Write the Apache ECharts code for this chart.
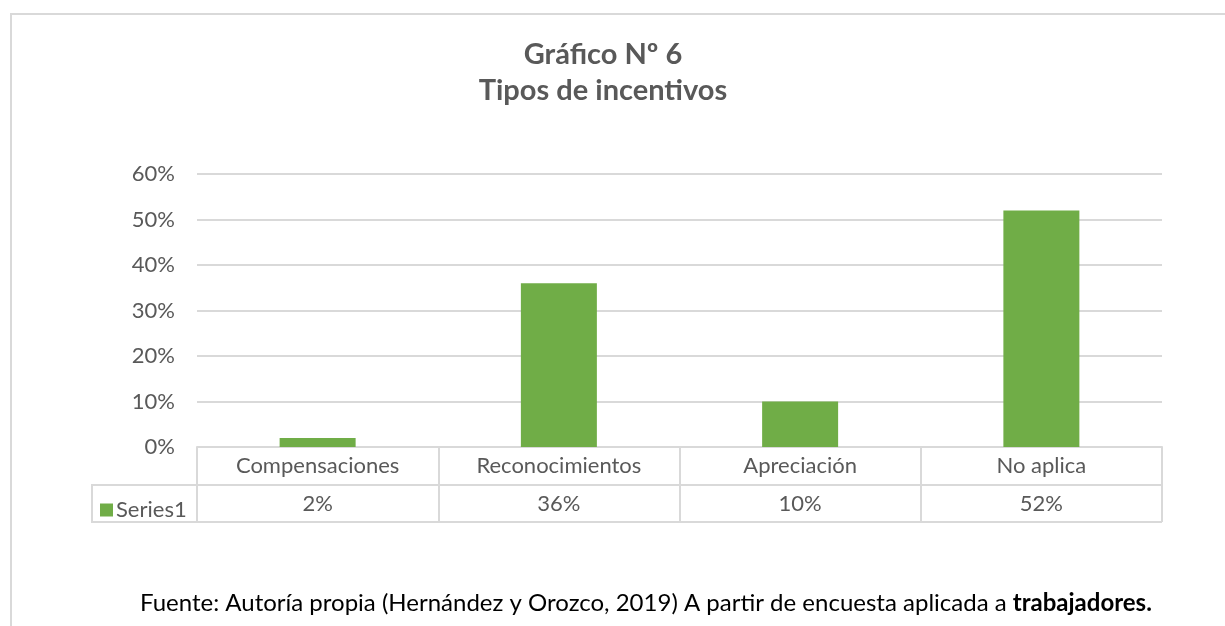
<!DOCTYPE html>
<html>
<head>
<meta charset="utf-8">
<script src="https://cdn.jsdelivr.net/npm/echarts@6/dist/echarts.min.js"></script>
<style>
  html, body { margin: 0; padding: 0; background: #fff; }
  #chart { width: 1225px; height: 626px; }
</style>
</head>
<body>
<div id="chart"></div>
<script>
// datos del gráfico
const categories = ['Compensaciones', 'Reconocimientos', 'Apreciación', 'No aplica']
const values = [0.02, 0.36, 0.10, 0.52]
const yTicks = [0, 0.1, 0.2, 0.3, 0.4, 0.5, 0.6]
const seriesName = 'Series1'

const pct = v => Math.round(v * 100) + '%'
const FONT = 'Lato'
const GRAY = '#595959'
const LINE = '#d9d9d9'

const chart = echarts.init(document.getElementById('chart'))

const option = {
  backgroundColor: '#fff',
  animation: false,
  textStyle: { fontFamily: FONT },
  title: [
    {
      text: 'Gráfico Nº 6\nTipos de incentivos',
      left: 598,
      textAlign: 'center',
      top: 32,
      textStyle: { fontFamily: FONT, fontSize: 29, fontWeight: 'bold', color: GRAY, lineHeight: 36 }
    },
    {
      text: '{n|Fuente: Autoría propia (Hernández y Orozco, 2019) A partir de encuesta aplicada a }{b|trabajadores.}',
      left: 135,
      top: 585,
      textStyle: {
        rich: {
          n: { fontFamily: FONT, fontSize: 24, lineHeight: 26, color: '#000', fontWeight: 'normal' },
          b: { fontFamily: FONT, fontSize: 24, lineHeight: 26, color: '#000', fontWeight: 'bold' }
        }
      }
    }
  ],
  legend: {
    data: [seriesName],
    left: 95,
    top: 494,
    icon: 'rect',
    itemWidth: 13,
    itemHeight: 13,
    itemGap: 4,
    textStyle: { fontFamily: FONT, fontSize: 22, color: GRAY, padding: [0, 0, 0, -2] }
  },
  grid: { left: 197, right: 63, top: 174, bottom: 179, containLabel: false },
  xAxis: [
    {
      type: 'category',
      data: categories,
      axisLine: { show: true, lineStyle: { color: LINE, width: 2 } },
      axisTick: { show: true, length: 38, lineStyle: { color: LINE, width: 2 } },
      axisLabel: { fontFamily: FONT, fontSize: 22, color: GRAY, margin: 8 }
    },
    {
      type: 'category',
      position: 'bottom',
      offset: 38,
      data: categories,
      axisLine: { show: true, lineStyle: { color: LINE, width: 2 } },
      axisTick: { show: true, length: 37, lineStyle: { color: LINE, width: 2 } },
      axisLabel: {
        fontFamily: FONT, fontSize: 22, color: GRAY, margin: 8,
        formatter: (v, i) => pct(values[i])
      }
    }
  ],
  yAxis: {
    type: 'value',
    min: yTicks[0],
    max: yTicks[yTicks.length - 1],
    interval: 0.1,
    axisLine: { show: false },
    axisTick: { show: false },
    axisLabel: { fontFamily: FONT, fontSize: 22, color: GRAY, margin: 22, formatter: v => pct(v) },
    splitLine: { lineStyle: { color: LINE, width: 2 } }
  },
  series: [
    {
      name: seriesName,
      type: 'bar',
      data: values,
      barWidth: '31.5%',
      itemStyle: { color: '#70ad47' }
    }
  ],
  graphic: [
    // marco del gráfico
    { type: 'rect', shape: { x: 11, y: 14, width: 1400, height: 800 }, style: { fill: 'none', stroke: LINE, lineWidth: 2 }, silent: true, z: -1 },
    // columna de la leyenda en la tabla
    { type: 'polyline', shape: { points: [[197, 485], [92, 485], [92, 522], [1162, 522]] }, style: { fill: 'none', stroke: LINE, lineWidth: 2 }, silent: true }
  ]
}

chart.setOption(option)
window.addEventListener('resize', () => chart.resize())
</script>
</body>
</html>
